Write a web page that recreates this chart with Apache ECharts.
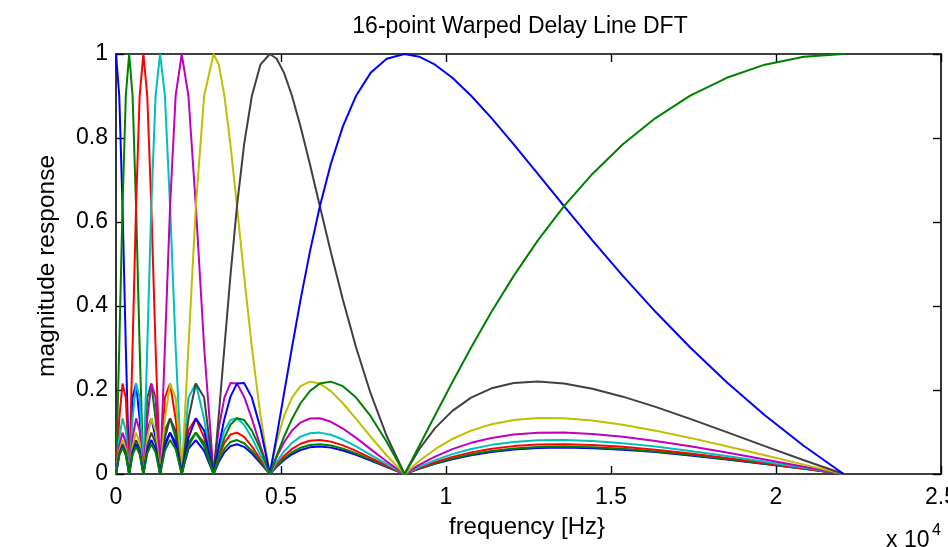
<!DOCTYPE html>
<html>
<head>
<meta charset="utf-8">
<script src="https://cdn.jsdelivr.net/npm/echarts@6/dist/echarts.min.js"></script>
<style>
html,body{margin:0;padding:0;background:#fff;}
#chart{width:948px;height:547px;}
</style>
</head>
<body>
<div id="chart"></div>
<script>
// frequency grid [Hz]
var freqHz = [0, 98.5, 197.5, 297.4, 398.8, 502.1, 607.9, 716.9, 829.7, 947.0, 1069.8, 1199.0, 1335.9, 1481.8, 1638.3, 1807.5, 1991.9, 2194.5, 2419.3, 2671.2, 2956.7,
  3114.7, 3284.5, 3467.7, 3666.1, 3881.9, 4117.7, 4376.5, 4662.0,
  4869.5, 5092.3, 5332.4, 5591.8, 5872.8, 6178.3, 6511.4, 6875.8, 7275.8, 7716.3, 8203.2, 8743.0,
  9187.1, 9668.8, 10192.1, 10760.9, 11379.6, 12052.5, 12783.7, 13576.9, 14434.9, 15359.1, 16348.8, 17400.5, 18507.8, 19661.1, 20847.0, 22050];

// magnitude response of each DFT bin (0..8)
var mag0 = [1, .90067, .63764, .30119, 0, .18188, .21531, .13118, 0, .10337, .13259, .08596, 0, .07419, .09852, .06581, 0, .05965, .08085, .05502, 0,
  .02832, .05152, .06638, .07087, .06466, .04889, .02617, 0,
  .01740, .03340, .04694, .05718, .06343, .06531, .06280, .05605, .04556, .03210, .01655, 0,
  .01241, .02428, .03518, .04468, .05246, .05820, .06169, .06280, .06154, .05792, .05208, .04425, .03475, .02393, .01220, 0];
var mag1 = [0, .30119, .63764, .90067, 1, .90067, .63764, .30119, 0, .18188, .21531, .13118, 0, .10337, .13259, .08596, 0, .07419, .09852, .06581, 0,
  .03303, .05965, .07628, .08085, .07327, .05502, .02926, 0,
  .01925, .03681, .05152, .06252, .06908, .07087, .06789, .06037, .04889, .03432, .01764, 0,
  .01313, .02564, .03705, .04694, .05497, .06083, .06432, .06531, .06384, .05993, .05375, .04556, .03570, .02452, .01247, 0];
var mag2 = [0, .13118, .21531, .18188, 0, .30119, .63764, .90067, 1, .90067, .63764, .30119, 0, .18188, .21531, .13118, 0, .10337, .13259, .08596, 0,
  .04155, .07419, .09388, .09852, .08843, .06581, .03470, 0,
  .02252, .04283, .05965, .07201, .07919, .08085, .07709, .06824, .05502, .03846, .01968, 0,
  .01455, .02832, .04080, .05152, .06016, .06638, .06999, .07087, .06907, .06466, .05784, .04889, .03820, .02617, .01327, 0];
var mag3 = [0, .08596, .13259, .10337, 0, .13118, .21531, .18188, 0, .30119, .63764, .90067, 1, .90067, .63764, .30119, 0, .18188, .21531, .13118, 0,
  .05904, .10337, .12847, .13259, .11718, .08596, .04472, 0,
  .02843, .05366, .07419, .08894, .09714, .09852, .09334, .08211, .06581, .04573, .02327, 0,
  .01704, .03303, .04740, .05965, .06938, .07628, .08013, .08085, .07853, .07327, .06531, .05502, .04285, .02926, .01479, 0];
var mag4 = [0, .06581, .09852, .07419, 0, .08596, .13259, .10337, 0, .13118, .21531, .18188, 0, .30119, .63764, .90067, 1, .90067, .63764, .30119, 0,
  .10920, .18188, .21656, .21531, .18414, .13118, .06648, 0,
  .04068, .07574, .10337, .12241, .13216, .13259, .12431, .10828, .08596, .05919, .02986, 0,
  .02156, .04155, .05929, .07419, .08584, .09388, .09812, .09852, .09523, .08843, .07847, .06581, .05103, .03470, .01746, 0];
var mag5 = [0, .05502, .08085, .05965, 0, .06581, .09852, .07419, 0, .08596, .13259, .10337, 0, .13118, .21531, .18188, 0, .30119, .63764, .90067, 1,
  .97459, .90067, .78492, .63764, .47171, .30119, .13990, 0,
  .07664, .13766, .18188, .20918, .21991, .21531, .19741, .16843, .13118, .08874, .04403, 0,
  .03095, .05904, .08340, .10337, .11851, .12847, .13313, .13259, .12716, .11718, .10323, .08596, .06621, .04472, .02236, 0];
var mag6 = [0, .04889, .07087, .05152, 0, .05502, .08085, .05965, 0, .06581, .09852, .07419, 0, .08596, .13259, .10337, 0, .13118, .21531, .18188, 0,
  .13990, .30119, .47171, .63764, .78492, .90067, .97459, 1,
  .98866, .95510, .90067, .82758, .73874, .63764, .52823, .41468, .30119, .19184, .09036, 0,
  .05889, .10919, .15031, .18188, .20395, .21656, .22014, .21531, .20302, .18414, .15978, .13118, .09968, .06648, .03284, 0];
var mag7 = [0, .04556, .06531, .04694, 0, .04889, .07087, .05152, 0, .05502, .08085, .05965, 0, .06581, .09852, .07419, 0, .08596, .13259, .10337, 0,
  .06648, .13118, .18414, .21531, .21656, .18188, .10920, 0,
  .09036, .19184, .30119, .41468, .52823, .63764, .73874, .82758, .90067, .95510, .98866, 1,
  .99361, .97459, .94338, .90068, .84746, .78492, .71446, .63764, .55614, .47171, .38614, .30119, .21858, .13990, .06662, 0];
var mag8 = [0, .04425, .06280, .04468, 0, .04556, .06531, .04694, 0, .04889, .07087, .05152, 0, .05502, .08085, .05965, 0, .06581, .09852, .07419, 0,
  .04472, .08596, .11718, .13259, .12847, .10337, .05904, 0,
  .04403, .08874, .13118, .16843, .19741, .21531, .21991, .20918, .18188, .13766, .07664, 0,
  .06662, .13990, .21858, .30119, .38614, .47171, .55614, .63764, .71446, .78492, .84746, .90068, .94338, .97459, .99361, 1];

var binMags = [mag0, mag1, mag2, mag3, mag4, mag5, mag6, mag7, mag8];
var lineColors = ['#0000ff', '#008000', '#ff0000', '#00bfbf', '#bf00bf', '#bfbf00', '#404040', '#0000ff', '#008000'];

var xTicks = [0, 5000, 10000, 15000, 20000, 25000];
var yTicks = [0, 0.2, 0.4, 0.6, 0.8, 1];

var FONT = '"Liberation Sans", Arial, Helvetica, sans-serif';

var series = binMags.map(function (m, k) {
  return {
    type: 'line',
    name: 'bin ' + k,
    data: freqHz.map(function (f, i) { return [f, m[i]]; }),
    showSymbol: false,
    symbol: 'none',
    lineStyle: { color: lineColors[k], width: 2 },
    itemStyle: { color: lineColors[k] },
    animation: false,
    z: 2 + k
  };
});

function xAxisCfg(pos, showLabel) {
  return {
    type: 'value', position: pos, min: 0, max: 25000, interval: 5000,
    axisLine: { show: true, onZero: false, lineStyle: { color: '#000', width: 1.6 } },
    axisTick: { show: true, inside: true, length: 8, lineStyle: { color: '#000', width: 1.4 } },
    axisLabel: {
      show: showLabel, color: '#000', fontSize: 23, fontFamily: FONT, margin: 12,
      formatter: function (v) { return String(v / 10000); }
    },
    splitLine: { show: false }
  };
}
function yAxisCfg(pos, showLabel) {
  return {
    type: 'value', position: pos, min: 0, max: 1, interval: 0.2,
    axisLine: { show: true, onZero: false, lineStyle: { color: '#000', width: 1.6 } },
    axisTick: { show: true, inside: true, length: 8, lineStyle: { color: '#000', width: 1.4 } },
    axisLabel: {
      show: showLabel, color: '#000', fontSize: 23, fontFamily: FONT, margin: 8,
      formatter: function (v) { return String(Math.round(v * 10) / 10); }
    },
    splitLine: { show: false }
  };
}

var chart = echarts.init(document.getElementById('chart'), null, { renderer: 'canvas' });
chart.setOption({
  backgroundColor: '#fff',
  animation: false,
  grid: { left: 116, right: 7, top: 54, bottom: 73, containLabel: false, outerBoundsMode: 'none' },
  xAxis: [xAxisCfg('bottom', true), xAxisCfg('top', false)],
  yAxis: [yAxisCfg('left', true), yAxisCfg('right', false)],
  series: series,
  graphic: [
    { type: 'text', x: 520, y: 27, style: { text: '16-point Warped Delay Line DFT', font: '23px ' + FONT, fill: '#000', align: 'center', verticalAlign: 'middle' } },
    { type: 'text', x: 527, y: 527, style: { text: 'frequency [Hz}', font: '24px ' + FONT, fill: '#000', align: 'center', verticalAlign: 'middle' } },
    { type: 'text', x: 47, y: 266, rotation: Math.PI / 2, style: { text: 'magnitude response', font: '24.5px ' + FONT, fill: '#000', align: 'center', verticalAlign: 'middle' } },
    { type: 'text', x: 886, y: 541, style: { text: 'x 10', font: '23px ' + FONT, fill: '#000', align: 'left', verticalAlign: 'middle' } },
    { type: 'text', x: 932, y: 531, style: { text: '4', font: '16px ' + FONT, fill: '#000', align: 'left', verticalAlign: 'middle' } }
  ]
});
</script>
</body>
</html>
